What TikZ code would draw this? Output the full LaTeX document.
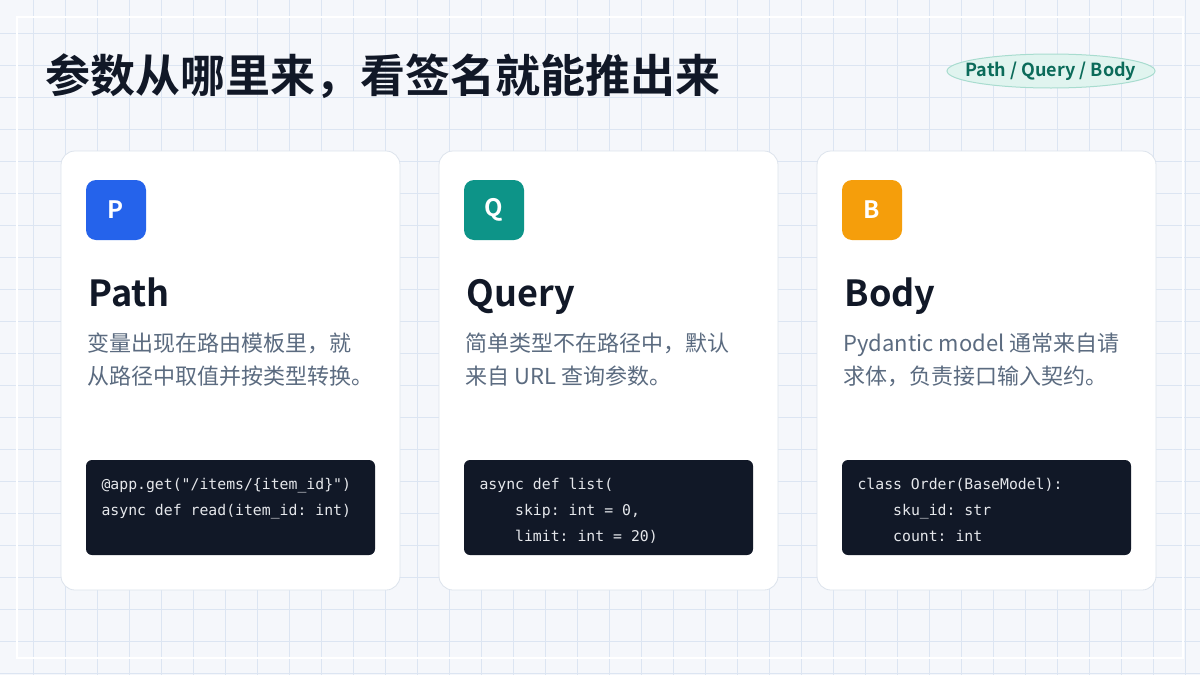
\documentclass[tikz,border=0pt]{standalone}
\usepackage{fontspec}
\setmainfont{Noto Sans CJK SC}
\newfontfamily\cjkb{Noto Sans CJK SC Bold}
\setmonofont{DejaVu Sans Mono}
\definecolor{bg}{HTML}{F5F7FB}
\definecolor{gridc}{HTML}{DCE5F2}
\definecolor{ink}{HTML}{111827}
\definecolor{sub}{HTML}{5B6B80}
\definecolor{cardline}{HTML}{DCE3EC}
\definecolor{pblue}{HTML}{2563EB}
\definecolor{qteal}{HTML}{0D9488}
\definecolor{borange}{HTML}{F59E0B}
\definecolor{codebg}{HTML}{111827}
\definecolor{codefg}{HTML}{E5E7EB}
\definecolor{badgef}{HTML}{E0F4EF}
\definecolor{badged}{HTML}{A8DCCF}
\definecolor{badget}{HTML}{0B6B5A}
\tikzset{
 card/.style={draw=cardline,line width=0.8pt,fill=white,rounded corners=14pt},
 icon/.style={rounded corners=10pt,minimum width=60pt,minimum height=60pt,text=white,font=\cjkb\fontsize{24}{24}\selectfont},
 ttl/.style={anchor=base west,text=ink,font=\cjkb\fontsize{36}{36}\selectfont},
 desc/.style={anchor=north west,text=sub,align=left,font=\fontsize{22}{33}\selectfont},
 code/.style={fill=codebg,rounded corners=6pt},
 codet/.style={anchor=north west,text=codefg,align=left,font=\ttfamily\fontsize{14.8}{26}\selectfont},
}
\begin{document}
\begin{tikzpicture}[x=1pt,y=-1pt]
\fill[bg] (0,0) rectangle (1200,675);
\useasboundingbox (0,0) rectangle (1200,675);
\foreach \i in {1,...,37} \draw[gridc,line width=0.8pt] (\i*32+1,0) -- (\i*32+1,675);
\foreach \i in {1,...,21} \draw[gridc,line width=0.8pt] (0,\i*32+1) -- (1200,\i*32+1);
\draw[white,line width=2pt] (17,17) rectangle (1183,658);
\node[anchor=west,inner sep=0pt,text=ink,font=\cjkb\fontsize{45}{45}\selectfont] (title) at (45,76) {参数从哪里来，看签名就能推出来};
\draw[draw=badged,fill=badgef,line width=1pt] (1051,71) ellipse [x radius=104, y radius=17];
\node[inner sep=0pt,text=badget,font=\cjkb\fontsize{18}{18}\selectfont] (badge) at (1051,71) {Path / Query / Body};
\foreach \x/\c/\l/\t/\n in {61/pblue/P/Path/p,439/qteal/Q/Query/q,817/borange/B/Body/b}{
  \draw[card] (\x,151) rectangle (\x+339,590);
  \node[icon,fill=\c] (icon\n) at (\x+55,210) {\l};
  \node[ttl] (t\n) at (\x+24,306) {\t};
  \fill[code] (\x+25,460) rectangle (\x+314,555);
}
\node[desc] (dp) at (84,329) {变量出现在路由模板里，就\\从路径中取值并按类型转换。};
\node[desc] (dq) at (462,329) {简单类型不在路径中，默认\\来自 URL 查询参数。};
\node[desc] (db) at (840,329) {Pydantic model 通常来自请\\求体，负责接口输入契约。};
\node[codet] (cp) at (98,475) {@app.get("/items/\{item\_id\}")\\async def read(item\_id: int)};
\node[codet] (cq) at (476,475) {async def list(\\\ \ \ \ skip: int = 0,\\\ \ \ \ limit: int = 20)};
\node[codet] (cb) at (854,475) {class Order(BaseModel):\\\ \ \ \ sku\_id: str\\\ \ \ \ count: int};
\end{tikzpicture}
\end{document}
